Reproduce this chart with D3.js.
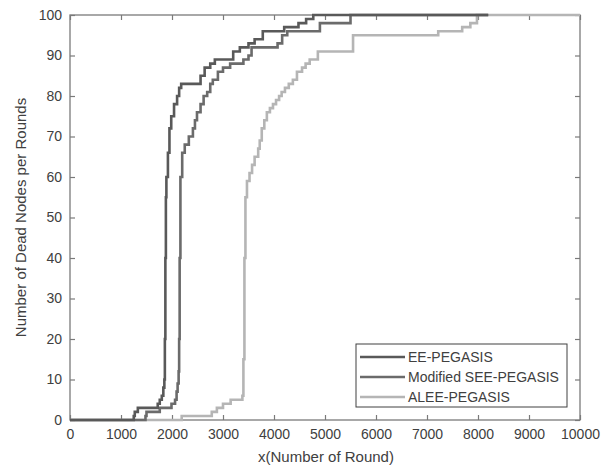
<!DOCTYPE html>
<html>
<head>
<meta charset="utf-8">
<script src="https://cdn.jsdelivr.net/npm/d3@7"></script>
<style>
  html, body { margin: 0; padding: 0; background: #fff; }
  svg { display: block; font-family: "Liberation Sans", Arial, sans-serif; }
</style>
</head>
<body>
<svg id="chart" width="606" height="468"></svg>
<script>
// Cumulative dead nodes per round for each protocol: [round, dead nodes]
const eePegasis = [
  [0,0],[1250,1],[1270,2],[1330,3],[1720,4],[1760,5],[1800,6],[1830,8],[1850,10],
  [1860,20],[1870,40],[1880,55],[1890,60],[1920,66],[1950,72],[1985,75],[2040,78],
  [2100,80],[2140,82],[2180,83],[2560,85],[2640,87],[2750,88],[2840,89],[3200,91],
  [3330,92],[3500,93],[3620,94],[3780,96],[4200,97],[4480,98],[4630,99],[4770,100],
  [8200,100]
];
const modSeePegasis = [
  [0,0],[1480,1],[1500,2],[1760,3],[1990,4],[2060,5],[2090,7],[2110,9],[2130,12],
  [2140,20],[2150,40],[2165,60],[2200,66],[2250,68],[2330,70],[2410,72],[2450,74],
  [2490,76],[2560,78],[2620,80],[2690,81],[2750,83],[2800,84],[2900,86],[3000,87],
  [3140,88],[3400,89],[3500,90],[3560,92],[4070,93],[4160,95],[4260,96],
  [4900,98],[5500,100],[8200,100]
];
const aleePegasis = [
  [0,0],[2190,1],[2780,2],[2880,3],[3000,4],[3150,5],[3380,6],[3400,15],[3420,40],
  [3440,55],[3470,59],[3520,61],[3570,63],[3620,65],[3690,67],[3720,69],[3760,72],
  [3810,74],[3860,76],[3920,77],[3980,78],[4040,79],[4100,80],[4150,81],[4215,82],
  [4290,83],[4370,84],[4450,86],[4550,87],[4620,88],[4700,89],[4860,91],
  [5550,95],[7220,96],[7690,97],[7850,98],[7980,100],[10000,100]
];

const seriesNames  = ["EE-PEGASIS", "Modified SEE-PEGASIS", "ALEE-PEGASIS"];
const seriesColors = ["#595959", "#6b6b6b", "#b5b5b5"];
const seriesData   = [eePegasis, modSeePegasis, aleePegasis];

const xTicks = [0,1000,2000,3000,4000,5000,6000,7000,8000,9000,10000];
const yTicks = [0,10,20,30,40,50,60,70,80,90,100];

const svg = d3.select("#chart");
const m = { left: 70, right: 26, top: 15, bottom: 48 };
const W = 606, H = 468;

const x = d3.scaleLinear().domain([0, 10000]).range([m.left, W - m.right]);
const y = d3.scaleLinear().domain([0, 100]).range([H - m.bottom, m.top]);

const axisColor = "#7a7a7a";
const textColor = "#404040";
const tickLen = 5;

// Data lines (stepwise cumulative counts)
const line = d3.line()
  .x(d => x(d[0]))
  .y(d => y(d[1]))
  .curve(d3.curveStepAfter);

// Axes box
const g = svg.append("g");
g.append("rect")
  .attr("x", x(0)).attr("y", y(100))
  .attr("width", x(10000) - x(0)).attr("height", y(0) - y(100))
  .attr("fill", "none").attr("stroke", axisColor).attr("stroke-width", 1.3);

// Inward ticks on all four sides
const fmt = d3.format("d");
const bottomAxis = d3.axisBottom(x).tickValues(xTicks).tickFormat(fmt).tickSizeInner(-tickLen).tickSizeOuter(0).tickPadding(9);
const topAxis = d3.axisTop(x).tickValues(xTicks).tickSizeInner(-tickLen).tickSizeOuter(0).tickFormat("");
const leftAxis = d3.axisLeft(y).tickValues(yTicks).tickFormat(fmt).tickSizeInner(-tickLen).tickSizeOuter(0).tickPadding(8);
const rightAxis = d3.axisRight(y).tickValues(yTicks).tickSizeInner(-tickLen).tickSizeOuter(0).tickFormat("");

function styleAxis(sel) {
  sel.select(".domain").remove();
  sel.selectAll(".tick line").attr("stroke", axisColor).attr("stroke-width", 1.2);
  sel.selectAll(".tick text").attr("fill", textColor).attr("font-size", 14)
    .attr("font-family", "'Liberation Sans', Arial, sans-serif");
}

g.append("g").attr("transform", `translate(0,${y(0)})`).call(bottomAxis).call(styleAxis);
g.append("g").attr("transform", `translate(0,${y(100)})`).call(topAxis).call(styleAxis);
g.append("g").attr("transform", `translate(${x(0)},0)`).call(leftAxis).call(styleAxis);
g.append("g").attr("transform", `translate(${x(10000)},0)`).call(rightAxis).call(styleAxis);

// Draw lightest series first so darker ones sit on top
[2, 1, 0].forEach(i => {
  svg.append("path")
    .datum(seriesData[i])
    .attr("d", line)
    .attr("fill", "none")
    .attr("stroke", seriesColors[i])
    .attr("stroke-width", 2.6)
    .attr("stroke-linejoin", "miter");
});

// Axis titles
svg.append("text")
  .attr("x", (x(0) + x(10000)) / 2 + 1).attr("y", 462)
  .attr("text-anchor", "middle").attr("font-size", 15).attr("fill", textColor)
  .text("x(Number of Round)");

svg.append("text")
  .attr("transform", `translate(26,${(y(0) + y(100)) / 2}) rotate(-90)`)
  .attr("text-anchor", "middle").attr("font-size", 15).attr("fill", textColor)
  .text("Number of Dead Nodes per Rounds");

// Legend
const lg = svg.append("g").attr("transform", "translate(356,344)");
lg.append("rect").attr("width", 211).attr("height", 63)
  .attr("fill", "#fff").attr("stroke", "#404040").attr("stroke-width", 1);
seriesNames.forEach((name, i) => {
  const cy = 13 + i * 20;
  lg.append("line").attr("x1", 4).attr("x2", 49).attr("y1", cy).attr("y2", cy)
    .attr("stroke", seriesColors[i]).attr("stroke-width", 2.6);
  lg.append("text").attr("x", 52).attr("y", cy + 5)
    .attr("font-size", 14).attr("fill", textColor).text(name);
});
</script>
</body>
</html>
